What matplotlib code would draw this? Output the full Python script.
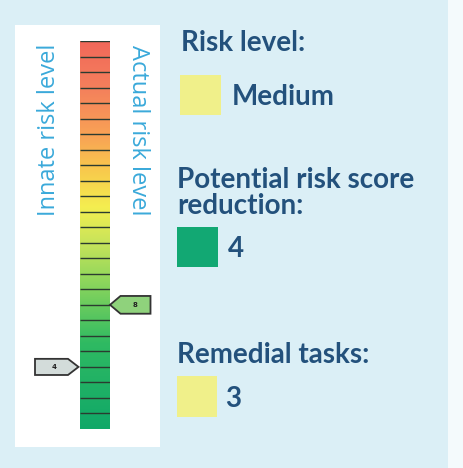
import matplotlib.pyplot as plt
import numpy as np
from matplotlib.colors import LinearSegmentedColormap
from matplotlib.patches import Rectangle, Polygon

# dados do painel de risco
n_levels = 25
innate_level = 4
actual_level = 8
risk_level = "Medium"
reduction = 4
remedial_tasks = 3

W, H = 464, 468
bg = '#dbeff6'
navy = '#23517c'
light_blue = '#3aa9da'

fig = plt.figure(figsize=(W / 100, H / 100), dpi=100)
fig.patch.set_facecolor(bg)

def fx(x):
    return x / W

def fy(y):
    return 1 - y / H

# painel branco atrás da escala
fig.add_artist(Rectangle((fx(15), fy(447)), fx(145), 422 / H, transform=fig.transFigure,
                         facecolor='white', edgecolor='none', zorder=0))
# borda direita esbranquiçada
fig.add_artist(Rectangle((fx(448), 0), fx(16), 1, transform=fig.transFigure,
                         facecolor='#f4fafc', edgecolor='none', zorder=0))

# escala de cores
cmap = LinearSegmentedColormap.from_list('risk', [
    (0.0, '#10a868'), (0.22, '#2fba62'), (0.38, '#8ed65c'), (0.48, '#c8e45a'),
    (0.57, '#f4ee50'), (0.66, '#f8cc4c'), (0.75, '#f9a455'), (0.88, '#f47f5c'),
    (1.0, '#f2685a')])

ax = fig.add_axes([fx(80), 1 - 429 / H, fx(30), 388 / H])
grad = np.linspace(0, 1, 256).reshape(-1, 1)
ax.imshow(grad, extent=[0, 1, 0, n_levels], origin='lower', aspect='auto', cmap=cmap,
          interpolation='bilinear')
ax.hlines(np.arange(1, n_levels + 1), 0, 1, color='#2b3b30', lw=1.0)
ax.set_xlim(0, 1)
ax.set_ylim(0, n_levels)
ax.axis('off')

# marcadores: nível inato (esquerda) e nível atual (direita)
hh = 0.52
innate = Polygon([[-0.05, innate_level], [-0.4, innate_level + hh], [-1.5, innate_level + hh],
                  [-1.5, innate_level - hh], [-0.4, innate_level - hh]], closed=True,
                 facecolor='#d3dcda', edgecolor='#333333', lw=1.3, clip_on=False, zorder=5)
ax.add_patch(innate)
ax.text(-0.85, innate_level, str(innate_level), ha='center', va='center', fontsize=5,
        fontweight='bold', color='#222222', zorder=6)

actual = Polygon([[1.0, actual_level], [1.35, actual_level + hh * 1.1], [2.35, actual_level + hh * 1.1],
                  [2.35, actual_level - hh * 1.1], [1.35, actual_level - hh * 1.1]], closed=True,
                 facecolor='#8fd27c', edgecolor='#333333', lw=1.3, clip_on=False, zorder=5)
ax.add_patch(actual)
ax.text(1.85, actual_level, str(actual_level), ha='center', va='center', fontsize=5,
        fontweight='bold', color='#222222', zorder=6)

# rótulos verticais
fig.text(fx(49), fy(130), 'Innate risk level', rotation=90, ha='center', va='center',
         fontsize=17, color=light_blue, family='Open Sans')
fig.text(fx(138), fy(130), 'Actual risk level', rotation=-90, ha='center', va='center',
         fontsize=17, color=light_blue, family='Open Sans')

# textos do lado direito
tkw = dict(color=navy, fontweight='bold', family='Lato', va='baseline', ha='left', fontsize=20)
fig.text(fx(181), fy(51), 'Risk level:', **tkw)
fig.add_artist(Rectangle((fx(180), fy(115)), fx(41), 40 / H, transform=fig.transFigure,
                         facecolor='#f0f08a', edgecolor='none'))
fig.text(fx(232), fy(105), risk_level, **tkw)

fig.text(fx(177), fy(188), 'Potential risk score', **tkw)
fig.text(fx(177), fy(214), 'reduction:', **tkw)
fig.add_artist(Rectangle((fx(177), fy(267)), fx(41), 40 / H, transform=fig.transFigure,
                         facecolor='#12a873', edgecolor='none'))
fig.text(fx(228), fy(257), str(reduction), **tkw)

fig.text(fx(177), fy(363), 'Remedial tasks:', **tkw)
fig.add_artist(Rectangle((fx(177), fy(417)), fx(40), 41 / H, transform=fig.transFigure,
                         facecolor='#f0f08a', edgecolor='none'))
fig.text(fx(225), fy(407), str(remedial_tasks), **tkw)

fig.savefig('out.png', dpi=100, facecolor=fig.get_facecolor())
